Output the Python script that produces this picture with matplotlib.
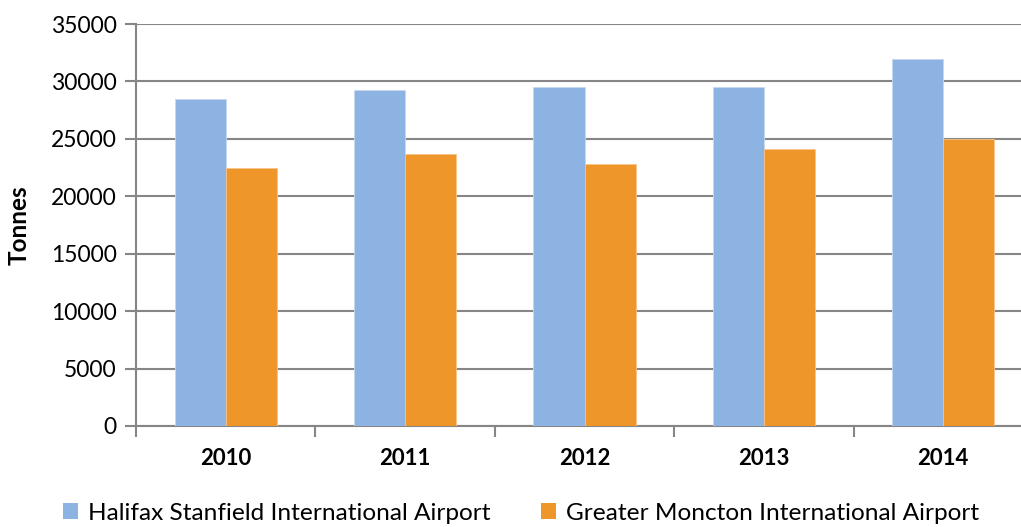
import matplotlib
matplotlib.use("Agg")
import matplotlib.pyplot as plt
import numpy as np
from matplotlib.patches import Patch

years = ["2010", "2011", "2012", "2013", "2014"]
halifax = [28450, 29250, 29550, 29500, 31950]
moncton = [22500, 23700, 22850, 24150, 25000]
series_names = ["Halifax Stanfield International Airport", "Greater Moncton International Airport"]
colors = ["#8DB3E2", "#EE9629"]
yticks = [0, 5000, 10000, 15000, 20000, 25000, 30000, 35000]

plt.rcParams['font.family'] = ['Lato', 'DejaVu Sans']

fig = plt.figure(figsize=(10.21, 5.27), dpi=100)
ax = fig.add_axes([136/1021, 101/527, 897/1021, 402/527])

x = np.arange(len(years))
w = 0.285
ax.bar(x - w/2, halifax, w, color=colors[0], edgecolor='#C6D9F1', linewidth=0.6, zorder=3)
ax.bar(x + w/2, moncton, w, color=colors[1], edgecolor='#F8C38A', linewidth=0.6, zorder=3)

ax.set_xlim(-0.5, len(years) - 0.5)
ax.set_ylim(0, 35000)
ax.set_yticks(yticks)
ax.set_yticklabels([str(v) for v in yticks], fontsize=16.5)
ax.yaxis.grid(True, color='#868686', linewidth=1.5, zorder=0)
ax.set_axisbelow(True)

ax.set_xticks(x)
ax.set_xticklabels(years, fontsize=16, fontweight='bold')
ax.tick_params(axis='x', which='major', length=0, pad=16)
ax.set_xticks(np.arange(-0.5, len(years) + 0.5, 1.0), minor=True)
ax.tick_params(axis='x', which='minor', length=8, width=1.5, color='#868686')
ax.tick_params(axis='y', length=8, width=1.5, color='#868686', pad=6)

for s in ['top', 'right']:
    ax.spines[s].set_visible(False)
ax.spines['left'].set_color('#868686')
ax.spines['left'].set_linewidth(1.5)
ax.spines['bottom'].set_color('#868686')
ax.spines['bottom'].set_linewidth(1.5)

ax.set_ylabel("Tonnes", fontsize=17.5, fontweight='bold')
ax.yaxis.set_label_coords(-105/897, 0.5)

handles = [Patch(facecolor=c, edgecolor='none') for c in colors]
fig.legend(handles, series_names, loc='center', bbox_to_anchor=(521/1021, 1 - 513/527),
           ncol=2, frameon=False, fontsize=17.6, handlelength=0.6, handleheight=0.6,
           handletextpad=0.4, columnspacing=2.1)

fig.savefig("out.png", dpi=100)
